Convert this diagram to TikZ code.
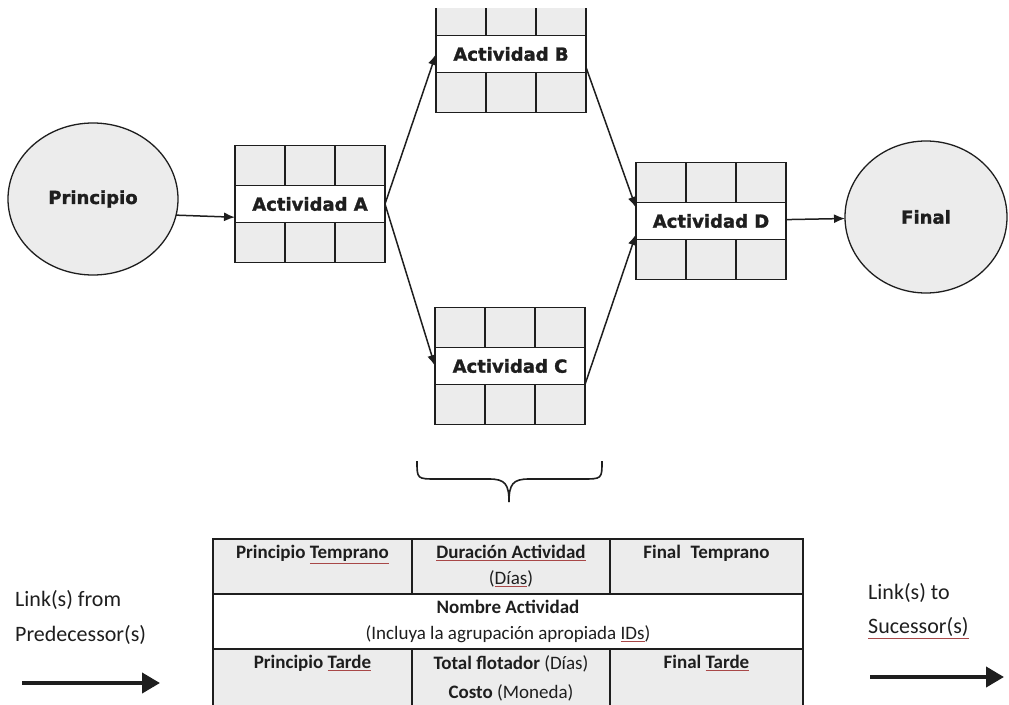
\documentclass[tikz,border=0pt]{standalone}
\usepackage{fontspec}
\setmainfont{Carlito}
\newfontfamily\boxfont[BoldFeatures={FakeBold=1.5}]{DejaVu Sans}
\usetikzlibrary{shapes.geometric, arrows.meta}

\definecolor{ink}{HTML}{1E1E1E}
\definecolor{scan}{HTML}{ECECEC}
\definecolor{squig}{HTML}{A84848}

\newcommand\spell[1]{\textcolor{squig}{\underline{\textcolor{ink}{#1}}}}

\tikzset{
	act/.style={rectangle, draw=ink, fill=white, line width=1.6pt, minimum width=150pt, minimum height=37pt,
		inner sep=0pt, outer sep=0pt, text=ink, font=\boxfont\bfseries\fontsize{18}{20}\selectfont},
	grid/.style={draw=ink, line width=1.6pt},
	ev/.style={ellipse, draw=ink, fill=scan, line width=1.3pt, inner sep=0pt, outer sep=0pt,
		text=ink, font=\boxfont\bfseries\fontsize{18}{20}\selectfont},
	link/.style={-{Latex[length=11pt,width=9pt]}, line width=1.5pt, draw=ink},
	fat/.style={-{Triangle[length=18pt,width=20pt]}, line width=4pt, draw=ink},
	tab/.style={rectangle, draw=ink, line width=1.6pt, anchor=north west, inner sep=0pt, outer sep=0pt},
	tt/.style={anchor=north, align=center, inner sep=0pt, text=ink, yshift=-6pt, font=\fontsize{19}{26}\selectfont},
	legend/.style={anchor=west, inner sep=0pt, text=ink, font=\fontsize{22}{26}\selectfont}
}

% top and bottom rows of an activity box
\newcommand\actrows[1]{
	\draw[grid, fill=scan] (#1.north west) rectangle ++(150,-40);
	\draw[grid, fill=scan] (#1.south west) rectangle ++(150,40);
	\foreach \i in {50,100} {
		\draw[grid] (#1.north west) ++(\i,0) -- ++(0,-40);
		\draw[grid] (#1.south west) ++(\i,0) -- ++(0,40);
	}
}

\begin{document}
\begin{tikzpicture}[x=1pt, y=-1pt]
	\useasboundingbox (0,0) rectangle (1009,704);
	\clip (0,8) rectangle (1009,704);

	% network
	\node [ev, minimum width=170pt, minimum height=152pt] (start) at (93,199) {Principio};
	\node [ev, minimum width=162pt, minimum height=152pt] (end) at (926,217) {Final};

	\node [act] (A) at (310,204) {Actividad A};
	\node [act] (B) at (511,54) {Actividad B};
	\node [act] (C) at (510,366) {Actividad C};
	\node [act] (D) at (711,221) {Actividad D};
	\actrows{A}
	\actrows{B}
	\actrows{C}
	\actrows{D}

	\draw[link] (start.-11) -- (A.190);
	\draw[link] (A.east) -- (B.west);
	\draw[link] (A.east) -- (C.west);
	\draw[link] (B.-10) -- (D.170);
	\draw[link] (C.south east) -- (D.190);
	\draw[link] (D) -- (end);

	% brace
	\draw[ink, line width=1.6pt] (417,461) .. controls (417,479) and (417,479) .. (437,479) -- (489,479)
		.. controls (505,479) and (509,484) .. (509,502);
	\draw[ink, line width=1.6pt] (602,461) .. controls (602,479) and (602,479) .. (582,479) -- (529,479)
		.. controls (513,479) and (509,484) .. (509,502);

	% legend table
	\node [tab, fill=scan, minimum width=199pt, minimum height=55pt] (es) at (213,539) {};
	\node [tab, fill=scan, minimum width=198pt, minimum height=55pt] (dur) at (412,539) {};
	\node [tab, fill=scan, minimum width=193pt, minimum height=55pt] (ef) at (610,539) {};
	\node [tab, fill=white, minimum width=590pt, minimum height=55pt] (name) at (213,594) {};
	\node [tab, fill=scan, minimum width=199pt, minimum height=66pt] (ls) at (213,649) {};
	\node [tab, fill=scan, minimum width=198pt, minimum height=66pt] (tf) at (412,649) {};
	\node [tab, fill=scan, minimum width=193pt, minimum height=66pt] (lf) at (610,649) {};

	\node [tt] (esT) at (es.north) {\bfseries Principio \spell{Temprano}};
	\node [tt] (durT) at (dur.north) {\bfseries\spell{Duración Actividad}\\(\spell{Días})};
	\node [tt] (efT) at (ef.north) {\bfseries Final\enspace Temprano};
	\node [tt] (nameT) at (name.north) {\bfseries Nombre Actividad\\(Incluya la agrupación apropiada \spell{IDs})};
	\node [tt] (lsT) at (ls.north) {\bfseries Principio \spell{Tarde}};
	\node [tt, font=\fontsize{19}{29}\selectfont] (tfT) at (tf.north) {\textbf{Total flotador} (Días)\\\textbf{Costo} (Moneda)};
	\node [tt] (lfT) at (lf.north) {\bfseries Final \spell{Tarde}};

	% links in and out
	\node [legend] (from) at (15,600) {Link(s) from};
	\node [legend] (pred) at (15,635) {Predecessor(s)};
	\node [legend] (to) at (868,593) {Link(s) to};
	\node [legend] (succ) at (868,628) {\spell{Sucessor(s)}};

	\coordinate (in0) at (22,683);
	\coordinate (in1) at (160,683);
	\coordinate (out0) at (870,677);
	\coordinate (out1) at (1004,677);
	\draw[fat] (in0) -- (in1);
	\draw[fat] (out0) -- (out1);
\end{tikzpicture}
\end{document}
